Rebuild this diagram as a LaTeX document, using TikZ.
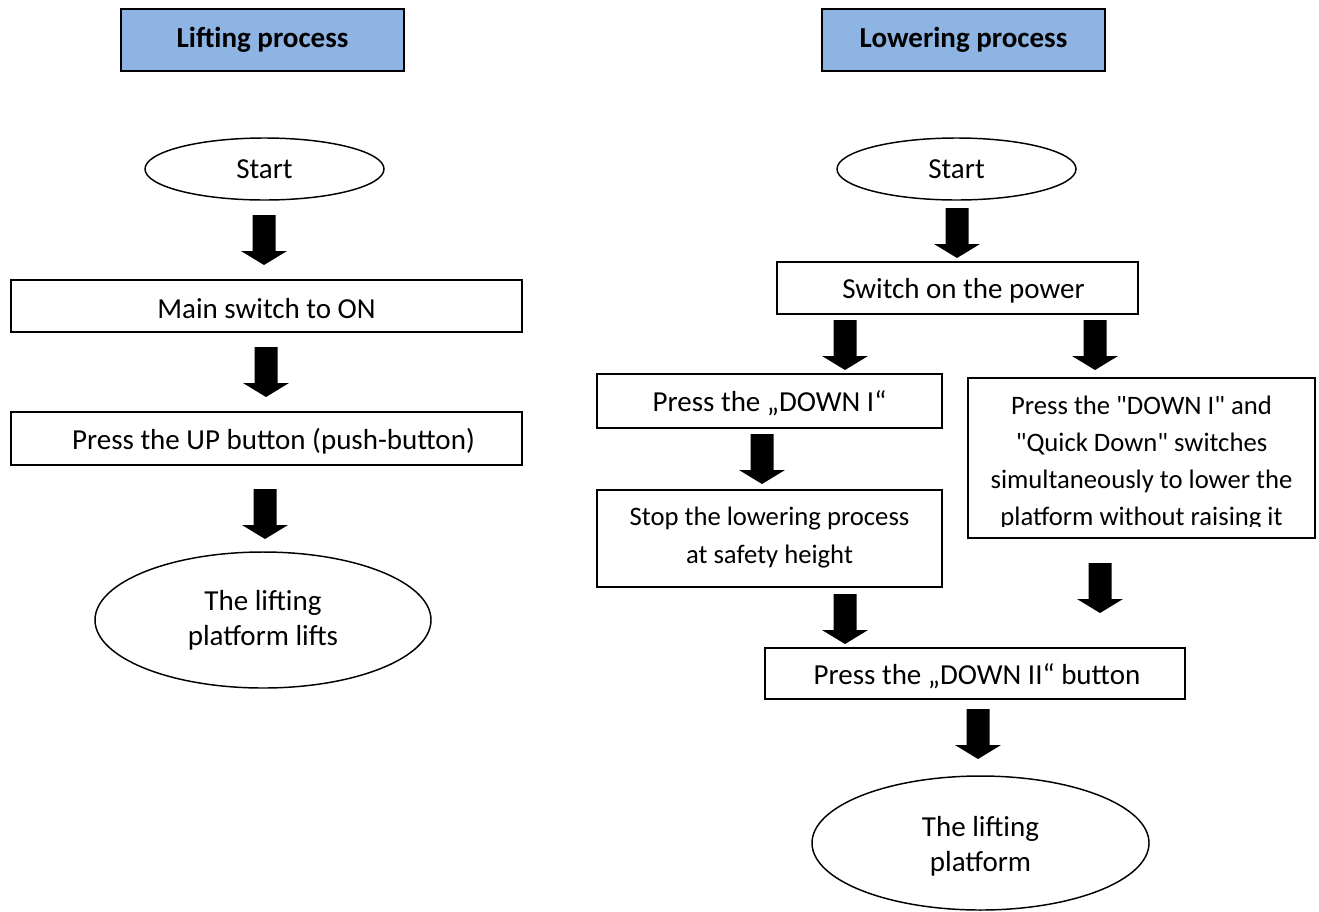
\documentclass[tikz,border=0pt]{standalone}
\usepackage{fontspec}
\setmainfont{Carlito}[Ligatures=TeXOff]
\usetikzlibrary{shapes.geometric}
\definecolor{titleblue}{HTML}{8EB4E3}
\def\u{0.75pt}
\newcommand{\dn}[1]{\raisebox{-1.8pt}[\height][\depth]{#1}}
\begin{document}
\begin{tikzpicture}[x=0.75pt,y=-0.75pt,
  every node/.style={font=\fontsize{21.75}{26.5}\selectfont},
  box/.style={draw,line width=1.2pt,inner sep=0pt,align=center},
  titlebox/.style={box,fill=titleblue,line width=1.6pt,font=\fontsize{21.75}{26.5}\selectfont\bfseries},
  oval/.style={draw,ellipse,line width=1.1pt,inner sep=0pt,align=center},
  smalltext/.style={align=center,inner sep=0pt,font=\fontsize{20}{27.75}\selectfont},
  blockarr/.pic={\fill (-11.5,0) -- (11.5,0) -- (11.5,36) -- (23,36) -- (0,50) -- (-23,36) -- (-11.5,36) -- cycle;}]
\useasboundingbox (0,0) rectangle (1319,911);
% left column
\node[titlebox,minimum width=283*\u,minimum height=62*\u] (t1) at (262.5,40) {Lifting process};
\node[oval,minimum width=239*\u,minimum height=62*\u] (s1) at (264.5,169) {Start};
\node[box,minimum width=511*\u,minimum height=52*\u] (m1) at (266.5,306) {\dn{Main switch to ON}};
\node[box,minimum width=511*\u,minimum height=53*\u] (p1) at (266.5,438.5) {\hspace*{10.5pt}\dn{Press the UP button (push-button)}};
\node[oval,minimum width=336*\u,minimum height=136*\u] (e1) at (263,620) {The lifting\\platform lifts};
\pic at (264,215) {blockarr};
\pic at (266,347) {blockarr};
\pic at (265,489) {blockarr};
% right column
\node[titlebox,minimum width=283*\u,minimum height=62*\u] (t2) at (963.5,40) {Lowering process};
\node[oval,minimum width=239*\u,minimum height=62*\u] (s2) at (956.5,169) {Start};
\node[box,minimum width=361*\u,minimum height=52*\u] (w2) at (957.5,288) {\hspace*{9pt}\dn{Switch on the power}};
\node[box,minimum width=345*\u,minimum height=54*\u] (d1) at (769.5,401) {\dn{Press the „DOWN I“}};
\node[box,minimum width=347*\u,minimum height=160*\u] (q1) at (1141.5,458) {};
\begin{scope}
\clip (968,378) rectangle (1315,526);
\node[smalltext] (qt) at (1141.5,463.5) {Press the "DOWN I" and\\"Quick Down" switches\\simultaneously to lower the\\platform without raising it};
\end{scope}
\node[box,minimum width=345*\u,minimum height=97*\u] (st) at (769.5,538.5) {};
\node[smalltext,font=\fontsize{20}{28.5}\selectfont] (stt) at (769.5,538) {Stop the lowering process\\at safety height};
\node[box,minimum width=420*\u,minimum height=51*\u] (d2) at (975,673.5) {\hspace*{3pt}\dn{Press the „DOWN II“ button}};
\node[oval,minimum width=337*\u,minimum height=134*\u] (e2) at (980.5,843) {};
\node[align=center,inner sep=0pt] (e2t) at (980.5,846) {The lifting\\platform};
\pic at (957,208) {blockarr};
\pic at (845,320) {blockarr};
\pic at (1095,320) {blockarr};
\pic at (762,434) {blockarr};
\pic at (845,594) {blockarr};
\pic at (1100,563) {blockarr};
\pic at (978,709) {blockarr};
\end{tikzpicture}
\end{document}
